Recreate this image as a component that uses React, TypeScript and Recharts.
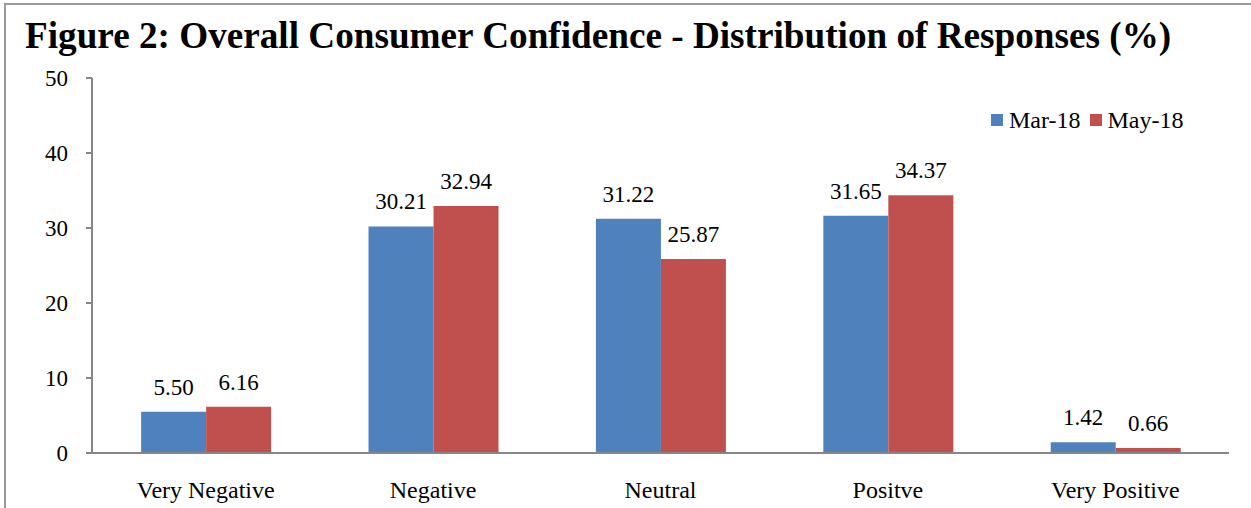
import { BarChart, Bar, XAxis, YAxis, LabelList } from 'recharts'

const categories = ['Very Negative', 'Negative', 'Neutral', 'Positve', 'Very Positive']
const mar18 = [5.5, 30.21, 31.22, 31.65, 1.42]
const may18 = [6.16, 32.94, 25.87, 34.37, 0.66]
const yTicks = [0, 10, 20, 30, 40, 50]
const bandTicks = [0, 1, 2, 3, 4, 5]
const series = [
  { key: 'mar', name: 'Mar-18', color: '#4F81BD' },
  { key: 'may', name: 'May-18', color: '#C0504D' },
]

const data = categories.map((c, i) => ({ name: c, mar: mar18[i], may: may18[i] }))

const FONT = '"Liberation Serif", "Times New Roman", serif'
const AXIS = '#868686'

export default function App() {
  return (
    <div style={{ position: 'absolute', left: 0, top: 0, width: 1251, height: 508, background: '#fff', fontFamily: FONT, overflow: 'hidden' }}>
      <div style={{ position: 'absolute', left: 4, top: 3, right: -10, bottom: -10, borderTop: '2px solid #999', borderLeft: '2px solid #999' }} />
      <div style={{ position: 'absolute', left: 25, top: 14, fontSize: 37.2, fontWeight: 'bold', color: '#000', whiteSpace: 'nowrap', lineHeight: '44px' }}>
        Figure 2: Overall Consumer Confidence - Distribution of Responses (%)
      </div>
      <div style={{ position: 'absolute', left: 0, top: 0 }}>
        <BarChart width={1251} height={508} data={data} margin={{ top: 78, right: 22, left: 0, bottom: 0 }} barCategoryGap="21.6%" barGap={0}>
          <XAxis dataKey="name" height={55} axisLine={{ stroke: AXIS, strokeWidth: 2 }} tickLine={false}
            tickMargin={22} tick={{ fontSize: 24, fill: '#000', fontFamily: FONT }} interval={0} />
          <XAxis xAxisId="band" type="number" domain={[0, 5]} ticks={bandTicks} height={0}
            axisLine={false} tick={false} tickLine={{ stroke: AXIS, strokeWidth: 2 }} tickSize={6} orientation="bottom" />
          <YAxis width={92} domain={[0, 50]} ticks={yTicks} tickSize={6} tickMargin={18}
            axisLine={{ stroke: AXIS, strokeWidth: 2 }} tickLine={{ stroke: AXIS, strokeWidth: 2 }}
            tick={{ fontSize: 23, fill: '#000', fontFamily: FONT }} />
          {series.map(s => (
            <Bar key={s.key} dataKey={s.key} name={s.name} fill={s.color} isAnimationActive={false}>
              <LabelList dataKey={s.key} position="top" offset={17} formatter={(v: number) => v.toFixed(2)}
                style={{ fontSize: 23, fill: '#000', fontFamily: FONT }} />
            </Bar>
          ))}
        </BarChart>
      </div>
      <div style={{ position: 'absolute', left: 991, top: 106, display: 'flex', alignItems: 'center', fontSize: 24, lineHeight: '28px', color: '#000' }}>
        {series.map(s => (
          <div key={s.key} style={{ display: 'flex', alignItems: 'center', marginRight: 9 }}>
            <span style={{ display: 'inline-block', width: 12, height: 12, background: s.color, marginRight: 6 }} />
            <span>{s.name}</span>
          </div>
        ))}
      </div>
    </div>
  )
}
